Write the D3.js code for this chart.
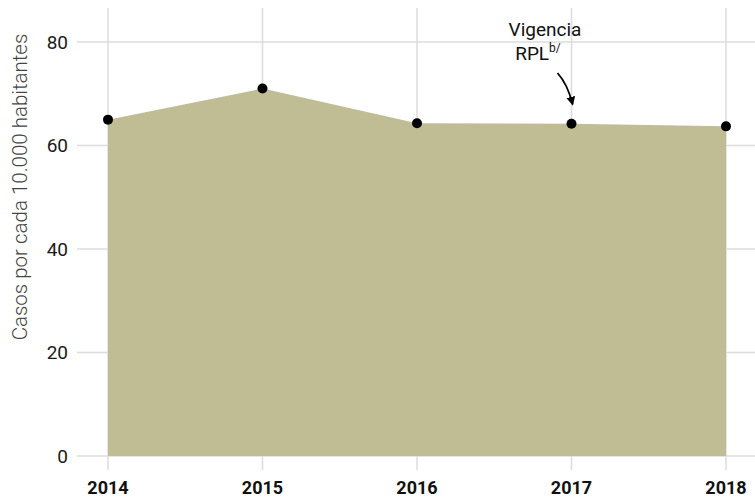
<!DOCTYPE html>
<html>
<head>
<meta charset="utf-8">
<script src="https://cdn.jsdelivr.net/npm/d3@7"></script>
<style>
  body { margin: 0; background: #fff; }
  text { font-family: "Roboto", "Noto Sans", sans-serif; }
</style>
</head>
<body>
<div id="vis"></div>
<script>
  "use strict";
  const years = [2014, 2015, 2016, 2017, 2018];
  const casos = [65, 71, 64.3, 64.2, 63.7];
  const yTicks = [0, 20, 40, 60, 80];
  const [width, height] = [755, 500];

  const x = d3.scalePoint().domain(years).range([108, 726]);
  const y = d3.scaleLinear().domain([0, 80]).range([456, 42]);
  const data = years.map((d, i) => ({year: d, v: casos[i]}));

  const svg = d3.select('#vis').append('svg')
    .attr('width', width).attr('height', height);

  // grid
  svg.append('g').selectAll('line').data(yTicks).join('line')
    .attr('x1', 77).attr('x2', width)
    .attr('y1', d => y(d)).attr('y2', d => y(d))
    .attr('stroke', '#dcdcdc').attr('stroke-width', 1.5);
  svg.append('g').selectAll('line').data(years).join('line')
    .attr('x1', d => x(d)).attr('x2', d => x(d))
    .attr('y1', 8).attr('y2', 470)
    .attr('stroke', '#dcdcdc').attr('stroke-width', 1.5);

  // area
  const area = d3.area().x(d => x(d.year)).y0(y(0)).y1(d => y(d.v));
  svg.append('path').datum(data).attr('d', area).attr('fill', '#c0bd95');

  svg.append('g').selectAll('circle').data(data).join('circle')
    .attr('cx', d => x(d.year)).attr('cy', d => y(d.v)).attr('r', 5)
    .attr('fill', '#000');

  // axes labels
  svg.append('g').selectAll('text').data(yTicks).join('text')
    .attr('x', 68).attr('y', d => y(d)).attr('dy', '0.36em')
    .attr('text-anchor', 'end').attr('font-size', 19).attr('fill', '#1a1a1a')
    .text(d => d);
  svg.append('g').selectAll('text').data(years).join('text')
    .attr('x', d => x(d)).attr('y', 494)
    .attr('text-anchor', 'middle').attr('font-size', 18).attr('font-weight', 'bold')
    .attr('fill', '#111').text(d => d);

  svg.append('text')
    .attr('transform', 'translate(27,187) rotate(-90)')
    .attr('text-anchor', 'middle').attr('font-size', 20.5).attr('font-weight', 300)
    .attr('fill', '#444')
    .text('Casos por cada 10.000 habitantes');

  // annotation
  const ann = svg.append('g').attr('font-size', 19).attr('fill', '#111');
  ann.append('text').attr('x', 545).attr('y', 36).attr('text-anchor', 'middle').text('Vigencia');
  const t2 = ann.append('text').attr('x', 538).attr('y', 60).attr('text-anchor', 'middle');
  t2.append('tspan').text('RPL');
  t2.append('tspan').attr('font-size', 12).attr('dy', -8).text('b/');

  const ax = x(2017);
  svg.append('defs').append('marker')
    .attr('id', 'arr').attr('viewBox', '0 0 10 10').attr('refX', 8).attr('refY', 5)
    .attr('markerWidth', 5).attr('markerHeight', 5).attr('orient', 'auto')
    .append('path').attr('d', 'M0,0L10,5L0,10z').attr('fill', '#000');
  svg.append('path')
    .attr('d', `M${ax - 14},73 Q${ax - 4},84 ${ax + 1},104`)
    .attr('fill', 'none').attr('stroke', '#000').attr('stroke-width', 1.8)
    .attr('marker-end', 'url(#arr)');
</script>
</body>
</html>
